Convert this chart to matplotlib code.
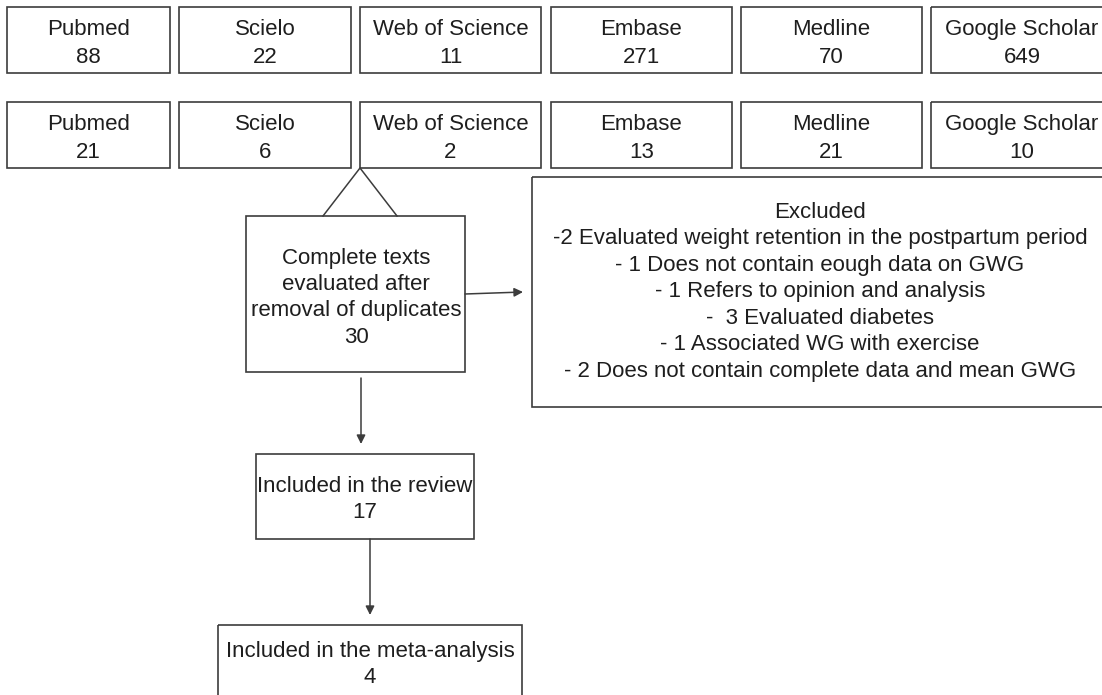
import matplotlib
matplotlib.use('Agg')
from matplotlib import pyplot as plt
from matplotlib.patches import Rectangle

# Data
databases = ['Pubmed', 'Scielo', 'Web of Science', 'Embase', 'Medline',
             'Google Scholar']
n_found = [88, 22, 11, 271, 70, 649]
n_selected = [21, 6, 2, 13, 21, 10]
full_text_label = ['Complete texts', 'evaluated after',
                   'removal of duplicates']
n_full_text = 30
excluded_title = 'Excluded'
excluded_reasons = ['-2 Evaluated weight retention in the postpartum period',
                    '- 1 Does not contain eough data on GWG',
                    '- 1 Refers to opinion and analysis',
                    '-  3 Evaluated diabetes',
                    '- 1 Associated WG with exercise',
                    '- 2 Does not contain complete data and mean GWG']
review_label = 'Included in the review'
n_review = 17
meta_label = 'Included in the meta-analysis'
n_meta = 4

# Layout (pixels, y downwards)
col_edges = [(7, 170), (179, 351), (360, 541), (551, 732), (741, 922),
             (931, 1113)]
row1 = (7, 73)
row2 = (102, 168)

edge = '#3c3c3c'
txt = '#1e1e1e'
font = 'Liberation Sans'
fs = 16

fig = plt.figure(figsize=(11.02, 6.95), dpi=100)
ax = fig.add_axes([0, 0, 1, 1])
ax.set_xlim(0, 1102)
ax.set_ylim(695, 0)
ax.axis('off')


def box(x0, x1, y0, y1):
    ax.add_patch(Rectangle((x0, y0), x1 - x0, y1 - y0, fill=False,
                           ec=edge, lw=1.2))


def label(x, y, s, size=fs):
    # y is the baseline of the line
    ax.text(x, y, s, ha='center', va='baseline', fontsize=size,
            family=font, color=txt)


def arrow(x0, y0, x1, y1):
    ax.annotate('', xy=(x1, y1), xytext=(x0, y0),
                arrowprops=dict(arrowstyle='-|>', color=edge, lw=1.1,
                                mutation_scale=13, shrinkA=0, shrinkB=0))


# Database rows
for i, name in enumerate(databases):
    x0, x1 = col_edges[i]
    xc = (x0 + x1) / 2
    box(x0, x1, *row1)
    label(xc, row1[0] + 28, name)
    label(xc, row1[0] + 56, str(n_found[i]))
    box(x0, x1, *row2)
    label(xc, row2[0] + 28, name)
    label(xc, row2[0] + 56, str(n_selected[i]))

# Triangle joining selection to full text box
ax.plot([323, 360, 397], [216, 168, 216], color=edge, lw=1.1)

# Full text box
box(246, 465, 216, 372)
for k, s in enumerate(full_text_label + [str(n_full_text)]):
    label(356, 264 + 26.2 * k, s)

# Excluded box
box(532, 1115, 177, 407)
label(820, 218, excluded_title)
for k, s in enumerate(excluded_reasons):
    label(820, 244 + 26.5 * k, s)
arrow(465, 294, 523, 292)

# Included in review
arrow(361, 378, 361, 444)
box(256, 474, 454, 539)
label(365, 492, review_label)
label(365, 518, str(n_review))

# Included in meta-analysis
arrow(370, 539, 370, 615)
box(218, 522, 625, 705)
label(370, 657, meta_label)
label(370, 683, str(n_meta))

fig.savefig('out.png', dpi=100, facecolor='white')
